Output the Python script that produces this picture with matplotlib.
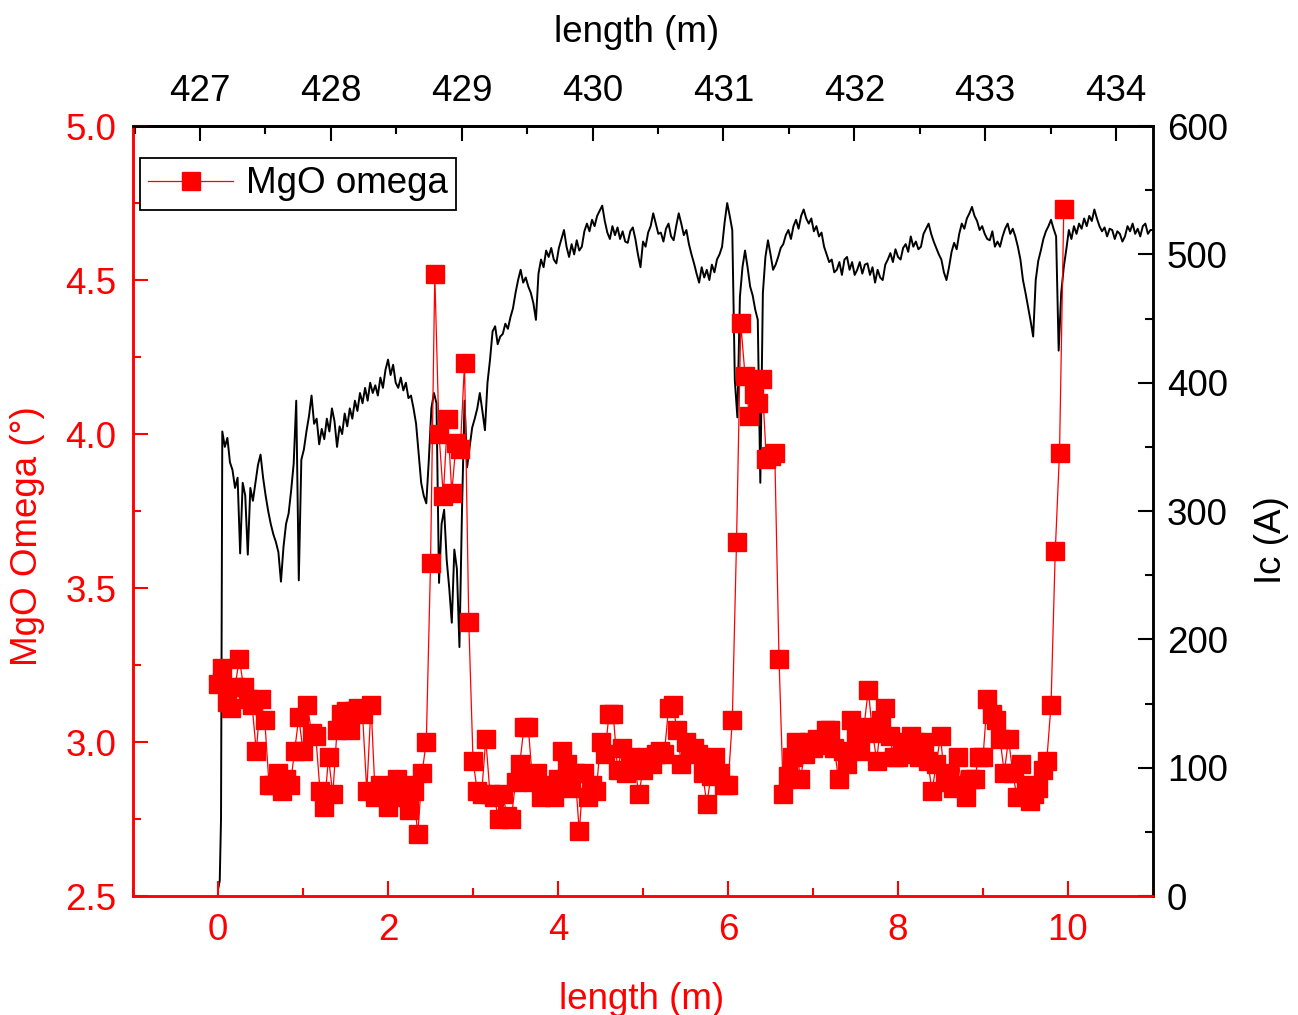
import numpy as np
import matplotlib
matplotlib.use("Agg")
from matplotlib import pyplot as plt
from matplotlib.ticker import MultipleLocator

plt.rcParams['font.family'] = ['Liberation Sans', 'DejaVu Sans']
plt.rcParams['font.size'] = 26.5

RED = '#ff0000'

# MgO omega (deg), one point every 0.05 m from 0 to 9.95 m
omega_step = 0.05
mgo_omega = [
    3.19, 3.24, 3.13, 3.11, 3.18, 3.27, 3.18, 3.14, 3.12, 2.97,
    3.14, 3.07, 2.86, 2.86, 2.90, 2.84, 2.88, 2.86, 2.97, 3.08,
    2.97, 3.12, 3.03, 3.02, 2.84, 2.79, 2.95, 2.83, 3.04, 3.09,
    3.10, 3.04, 3.10, 3.11, 3.09, 2.84, 3.12, 2.82, 2.86, 2.84,
    2.79, 2.85, 2.88, 2.82, 2.86, 2.78, 2.84, 2.70, 2.90, 3.00,
    3.58, 4.52, 4.00, 3.80, 4.05, 3.81, 3.97, 3.95, 4.23, 3.39,
    2.94, 2.84, 2.83, 3.01, 2.83, 2.82, 2.75, 2.83, 2.76, 2.75,
    2.87, 2.93, 3.05, 3.05, 2.87, 2.90, 2.82, 2.84, 2.86, 2.82,
    2.88, 2.97, 2.93, 2.85, 2.90, 2.71, 2.90, 2.82, 2.86, 2.84,
    3.00, 2.96, 3.09, 3.09, 2.91, 2.98, 2.90, 2.95, 2.93, 2.83,
    2.91, 2.95, 2.93, 2.96, 2.97, 2.96, 3.11, 3.12, 3.04, 2.93,
    3.00, 2.97, 2.98, 2.96, 2.90, 2.80, 2.89, 2.95, 2.90, 2.86,
    2.86, 3.07, 3.65, 4.36, 4.19, 4.06, 4.13, 4.10, 4.18, 3.92,
    3.93, 3.94, 3.27, 2.83, 2.89, 2.95, 3.00, 2.88, 2.96, 3.00,
    2.98, 3.01, 2.99, 3.04, 3.04, 2.98, 2.88, 2.97, 2.93, 3.07,
    3.03, 2.97, 3.05, 3.17, 3.03, 2.94, 3.07, 3.11, 3.02, 2.95,
    2.95, 2.96, 3.00, 3.02, 3.00, 2.95, 3.00, 2.94, 2.84, 2.93,
    3.02, 2.87, 2.90, 2.85, 2.95, 2.86, 2.82, 2.88, 2.88, 2.95,
    2.95, 3.14, 3.09, 3.07, 3.01, 2.90, 3.01, 2.90, 2.82, 2.93,
    2.86, 2.81, 2.83, 2.85, 2.91, 2.94, 3.12, 3.62, 3.94, 4.73,
]

# Ic (A): start of the ramp, then one point every 0.03 m from 0.05 m
ic_start_len = [0.0, 0.02, 0.035]
ic_start = [5, 12, 60]
ic_step = 0.03
ic = [
    362, 350, 357, 338, 332, 318, 326, 267, 322, 312,
    266, 318, 308, 322, 336, 344, 326, 312, 300, 290,
    282, 276, 268, 245, 272, 290, 298, 316, 337, 386,
    246, 340, 348, 362, 374, 390, 368, 372, 352, 364,
    356, 372, 362, 380, 370, 350, 366, 360, 376, 366,
    380, 372, 386, 378, 392, 384, 396, 386, 400, 392,
    398, 390, 404, 396, 410, 418, 406, 414, 400, 396,
    404, 394, 400, 388, 390, 380, 368, 345, 322, 312,
    306, 340, 380, 392, 384, 244, 290, 301, 262, 240,
    213, 270, 255, 194, 300, 386, 334, 350, 365, 372,
    380, 392, 378, 363, 400, 418, 440, 444, 430, 436,
    438, 446, 442, 451, 458, 470, 480, 488, 478, 482,
    475, 470, 462, 449, 485, 496, 490, 503, 498, 505,
    496, 493, 505, 512, 519, 506, 498, 508, 500, 511,
    503, 506, 518, 524, 518, 527, 522, 530, 534, 538,
    526, 517, 512, 522, 515, 521, 512, 518, 510, 509,
    518, 521, 512, 500, 490, 510, 506, 517, 522, 532,
    524, 516, 517, 510, 520, 524, 514, 511, 522, 532,
    524, 515, 519, 508, 500, 493, 485, 478, 490, 482,
    488, 480, 492, 486, 496, 500, 506, 525, 540, 530,
    519, 402, 373, 467, 490, 503, 490, 475, 468, 457,
    449, 322, 470, 498, 511, 500, 488, 492, 498, 505,
    508, 515, 519, 512, 522, 527, 520, 530, 535, 528,
    524, 528, 518, 522, 514, 517, 506, 500, 494, 496,
    486, 488, 494, 484, 496, 498, 488, 494, 484, 488,
    494, 485, 492, 493, 484, 490, 478, 488, 482, 480,
    492, 496, 501, 494, 504, 498, 496, 505, 508, 502,
    514, 506, 510, 504, 506, 516, 520, 524, 516, 510,
    505, 500, 496, 486, 480, 490, 502, 509, 504, 516,
    524, 520, 528, 532, 537, 530, 526, 519, 522, 516,
    512, 511, 518, 506, 510, 506, 514, 520, 524, 516,
    520, 514, 506, 496, 480, 470, 459, 448, 436, 480,
    495, 503, 512, 518, 522, 527, 520, 514, 425, 470,
    490, 504, 519, 512, 522, 516, 524, 520, 528, 522,
    530, 526, 535, 528, 522, 518, 521, 514, 520, 519,
    512, 518, 516, 510, 514, 522, 518, 524, 516, 520,
    514, 522, 524, 516, 519, 519,
]

# top axis: position along the whole tape
top_offset = 427.1376
top_scale = 0.64955

omega_len = np.arange(len(mgo_omega)) * omega_step
ic_len = np.concatenate([ic_start_len, 0.05 + np.arange(len(ic)) * ic_step])
ic_all = np.concatenate([ic_start, ic])

fig = plt.figure(figsize=(12.98, 10.15), dpi=100)
ax = fig.add_axes([0.1025, 0.1172, 0.7858, 0.7586])
ax2 = ax.twinx()

# black Ic trace behind the red points
ax2.plot(ic_len, ic_all, color='black', lw=1.4)
ax2.set_ylim(0, 600)
ax2.yaxis.set_major_locator(MultipleLocator(100))
ax2.yaxis.set_minor_locator(MultipleLocator(50))
ax2.set_ylabel('Ic (A)', va='center', ha='center')
ax2.yaxis.set_label_coords(1.116, 0.462)

ax.set_zorder(ax2.get_zorder() + 1)
ax.patch.set_visible(False)
ax.plot(omega_len, mgo_omega, color=RED, lw=0.9, marker='s', ms=13,
        mec=RED, mfc=RED, label='MgO omega')
ax.set_xlim(-1, 11)
ax.set_ylim(2.5, 5.0)
ax.xaxis.set_major_locator(MultipleLocator(2))
ax.xaxis.set_minor_locator(MultipleLocator(1))
ax.yaxis.set_major_locator(MultipleLocator(0.5))
ax.yaxis.set_minor_locator(MultipleLocator(0.25))
ax.yaxis.set_major_formatter(plt.FormatStrFormatter('%.1f'))
ax.set_xlabel('length (m)', color=RED, va='center')
ax.xaxis.set_label_coords(0.499, -0.134)
ax.set_ylabel('MgO Omega (°)', color=RED, va='center', ha='center')
ax.yaxis.set_label_coords(-0.103, 0.4675)

top = ax.secondary_xaxis('top', functions=(lambda x: top_offset + top_scale * x,
                                           lambda t: (t - top_offset) / top_scale))
top.set_xticks(np.arange(427, 435))
top.xaxis.set_minor_locator(MultipleLocator(0.5))
top.tick_params(which='major', direction='in', length=11, width=1.5, pad=12, colors='black')
top.tick_params(which='minor', direction='in', length=6, width=1.5, colors='black')
top.spines['top'].set_linewidth(1.8)
fig.text(637 / 1298, 1 - 32 / 1015, 'length (m)', ha='center', va='center')

for a in (ax, ax2):
    a.spines['left'].set_color(RED)
    a.spines['bottom'].set_color(RED)
    a.spines['top'].set_color('black')
    a.spines['right'].set_color('black')
    for s in a.spines.values():
        s.set_linewidth(1.8)

ax.tick_params(axis='both', which='major', direction='in', length=11, width=1.5, colors=RED, pad=12)
ax.tick_params(axis='both', which='minor', direction='in', length=6, width=1.5, colors=RED)
ax.tick_params(axis='x', which='both', top=False)
ax.tick_params(axis='y', which='both', right=False)
ax2.tick_params(axis='y', which='major', direction='in', length=11, width=1.5, colors='black', pad=10)
ax2.tick_params(axis='y', which='minor', direction='in', length=6, width=1.5, colors='black')

leg = ax.legend(loc='upper left', bbox_to_anchor=(0.007, 0.958), borderaxespad=0,
                fancybox=False, edgecolor='black', framealpha=1, handlelength=2.3,
                borderpad=0.22, handletextpad=0.35)
leg.get_frame().set_linewidth(1.3)

fig.savefig('out.png', dpi=100)
